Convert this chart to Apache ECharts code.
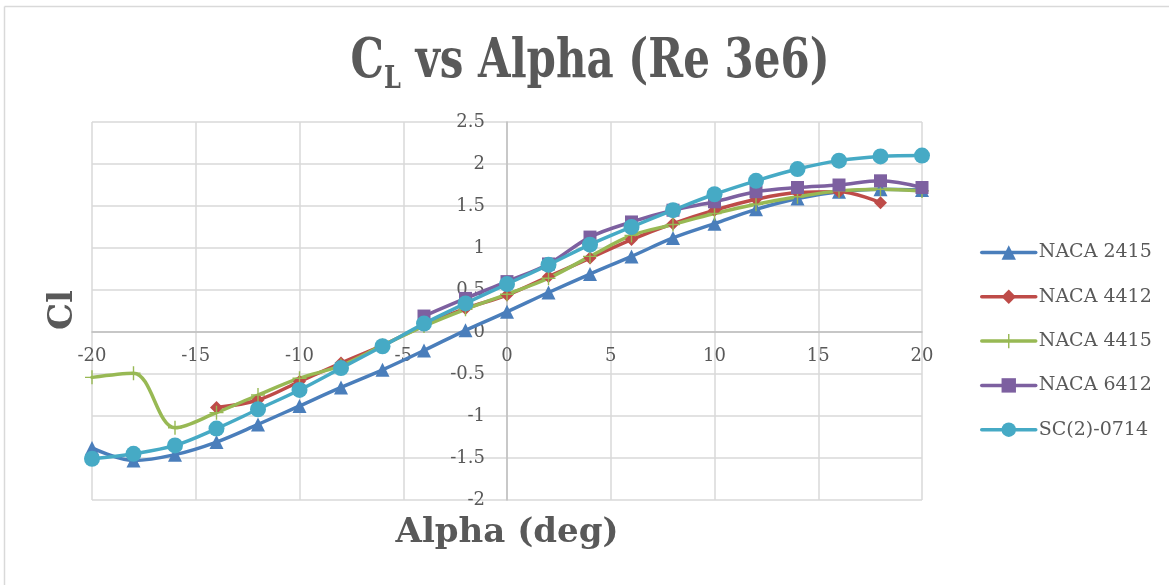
<!DOCTYPE html>
<html>
<head>
<meta charset="utf-8">
<script src="https://cdn.jsdelivr.net/npm/echarts@6/dist/echarts.min.js"></script>
<style>
html,body{margin:0;padding:0;background:#fff;}
#chart{width:1169px;height:585px;}
</style>
</head>
<body>
<div id="chart"></div>
<script>
const alpha = [-20,-18,-16,-14,-12,-10,-8,-6,-4,-2,0,2,4,6,8,10,12,14,16,18,20];
const naca2415 = [-1.38,-1.53,-1.46,-1.31,-1.10,-0.88,-0.66,-0.45,-0.22,0.02,0.24,0.47,0.69,0.90,1.12,1.29,1.46,1.59,1.67,1.70,1.69];
const naca4412 = [null,null,null,-0.90,-0.81,-0.59,-0.37,-0.16,0.08,0.28,0.44,0.66,0.88,1.10,1.29,1.45,1.58,1.66,1.67,1.54,null];
const naca4415 = [-0.54,-0.49,-1.14,-0.96,-0.75,-0.55,-0.40,-0.16,0.07,0.27,0.45,0.64,0.90,1.15,1.28,1.41,1.52,1.61,1.68,1.70,1.68];
const naca6412 = [null,null,null,null,null,null,null,null,0.19,0.40,0.60,0.81,1.13,1.31,1.45,1.55,1.67,1.72,1.75,1.80,1.72];
const sc20714  = [-1.51,-1.45,-1.35,-1.15,-0.92,-0.69,-0.43,-0.17,0.10,0.34,0.57,0.80,1.04,1.25,1.45,1.64,1.80,1.94,2.04,2.09,2.10];
const seriesNames = ['NACA 2415','NACA 4412','NACA 4415','NACA 6412','SC(2)-0714'];
const titleText = ['C','L',' vs Alpha (Re 3e6)'];
const xAxisTitle = 'Alpha (deg)';
const yAxisTitle = 'Cl';

const FONT = '"DejaVu Serif", serif';
const colors = ['#4a7ebb','#be4b48','#98b954','#7d60a0','#46aac5'];
const symbols = ['triangle','diamond','path://M9,0h2v20h-2z M0,9h20v2h-20z','rect','circle'];
const symbolSizes = [14,13,14,13,16];
const dataSets = [naca2415,naca4412,naca4415,naca6412,sc20714];

function pairs(arr){ return alpha.map((a,i)=>[a, arr[i]]); }

const GRID = {left:92, right:247, top:122, bottom:85};
const chart = echarts.init(document.getElementById('chart'), null, {renderer:'canvas'});
chart.setOption({
  animation:false,
  backgroundColor:'#fff',
  grid:Object.assign({containLabel:false}, GRID),
  legend:{
    orient:'vertical', left:975, top:238, itemWidth:54, itemHeight:18, itemGap:25.3,
    lineStyle:{width:3.5},
    textStyle:{fontFamily:FONT, fontSize:19, color:'#595959', padding:[0,0,0,-2]},
    data:seriesNames
  },
  xAxis:{
    type:'value', min:-20, max:20, interval:5, position:'bottom',
    offset:-168,
    axisLine:{show:true, onZero:false, lineStyle:{color:'#bfbfbf', width:1.5}},
    axisTick:{show:false},
    axisLabel:{fontFamily:FONT, fontSize:18, color:'#595959', margin:15},
    splitLine:{show:true, lineStyle:{color:'#d9d9d9', width:1.5}}
  },
  yAxis:{
    type:'value', min:-2, max:2.5, interval:0.5, position:'left',
    offset:-415,
    axisLine:{show:true, onZero:false, lineStyle:{color:'#bfbfbf', width:1.5}},
    axisTick:{show:false},
    axisLabel:{fontFamily:FONT, fontSize:18, color:'#595959', margin:22},
    splitLine:{show:true, lineStyle:{color:'#d9d9d9', width:1.5}}
  },
  series: seriesNames.map((n,i)=>({
    name:n, type:'line', data:pairs(dataSets[i]), smooth:0.35,
    symbol:symbols[i], symbolSize:symbolSizes[i], showSymbol:true,
    connectNulls:false,
    lineStyle:{color:colors[i], width:3.5, cap:'round', join:'round'},
    itemStyle:{color:colors[i]},
    emphasis:{disabled:true}
  })),
  graphic:[
    {type:'line', shape:{x1:4.5,y1:6.5,x2:1169,y2:6.5}, style:{stroke:'#d9d9d9', lineWidth:1.5}, silent:true},
    {type:'line', shape:{x1:4.5,y1:6.5,x2:4.5,y2:585}, style:{stroke:'#d9d9d9', lineWidth:1.5}, silent:true},
    {type:'text', x:590, y:63, scaleY:1.3, originX:0, originY:0,
      style:{
        text:'{c|'+titleText[0]+'}{s|'+titleText[1]+'}{t|'+titleText[2]+'}',
        align:'center', verticalAlign:'middle',
        rich:{
          c:{fontFamily:FONT, fontWeight:'bold', fontSize:42, fill:'#595959', lineHeight:50, verticalAlign:'middle'},
          s:{fontFamily:FONT, fontWeight:'bold', fontSize:24, fill:'#595959', lineHeight:50, verticalAlign:'bottom', padding:[30,0,0,0]},
          t:{fontFamily:FONT, fontWeight:'bold', fontSize:42, fill:'#595959', lineHeight:50, verticalAlign:'middle'}
        }
      }
    },
    {type:'text', x:507, y:533, style:{text:xAxisTitle, align:'center', verticalAlign:'middle', fontFamily:FONT, fontWeight:'bold', fontSize:34, fill:'#595959'}},
    {type:'text', x:63, y:310, rotation:Math.PI/2, style:{text:yAxisTitle, align:'center', verticalAlign:'middle', fontFamily:FONT, fontWeight:'bold', fontSize:34, fill:'#595959'}}
  ]
});
</script>
</body>
</html>
